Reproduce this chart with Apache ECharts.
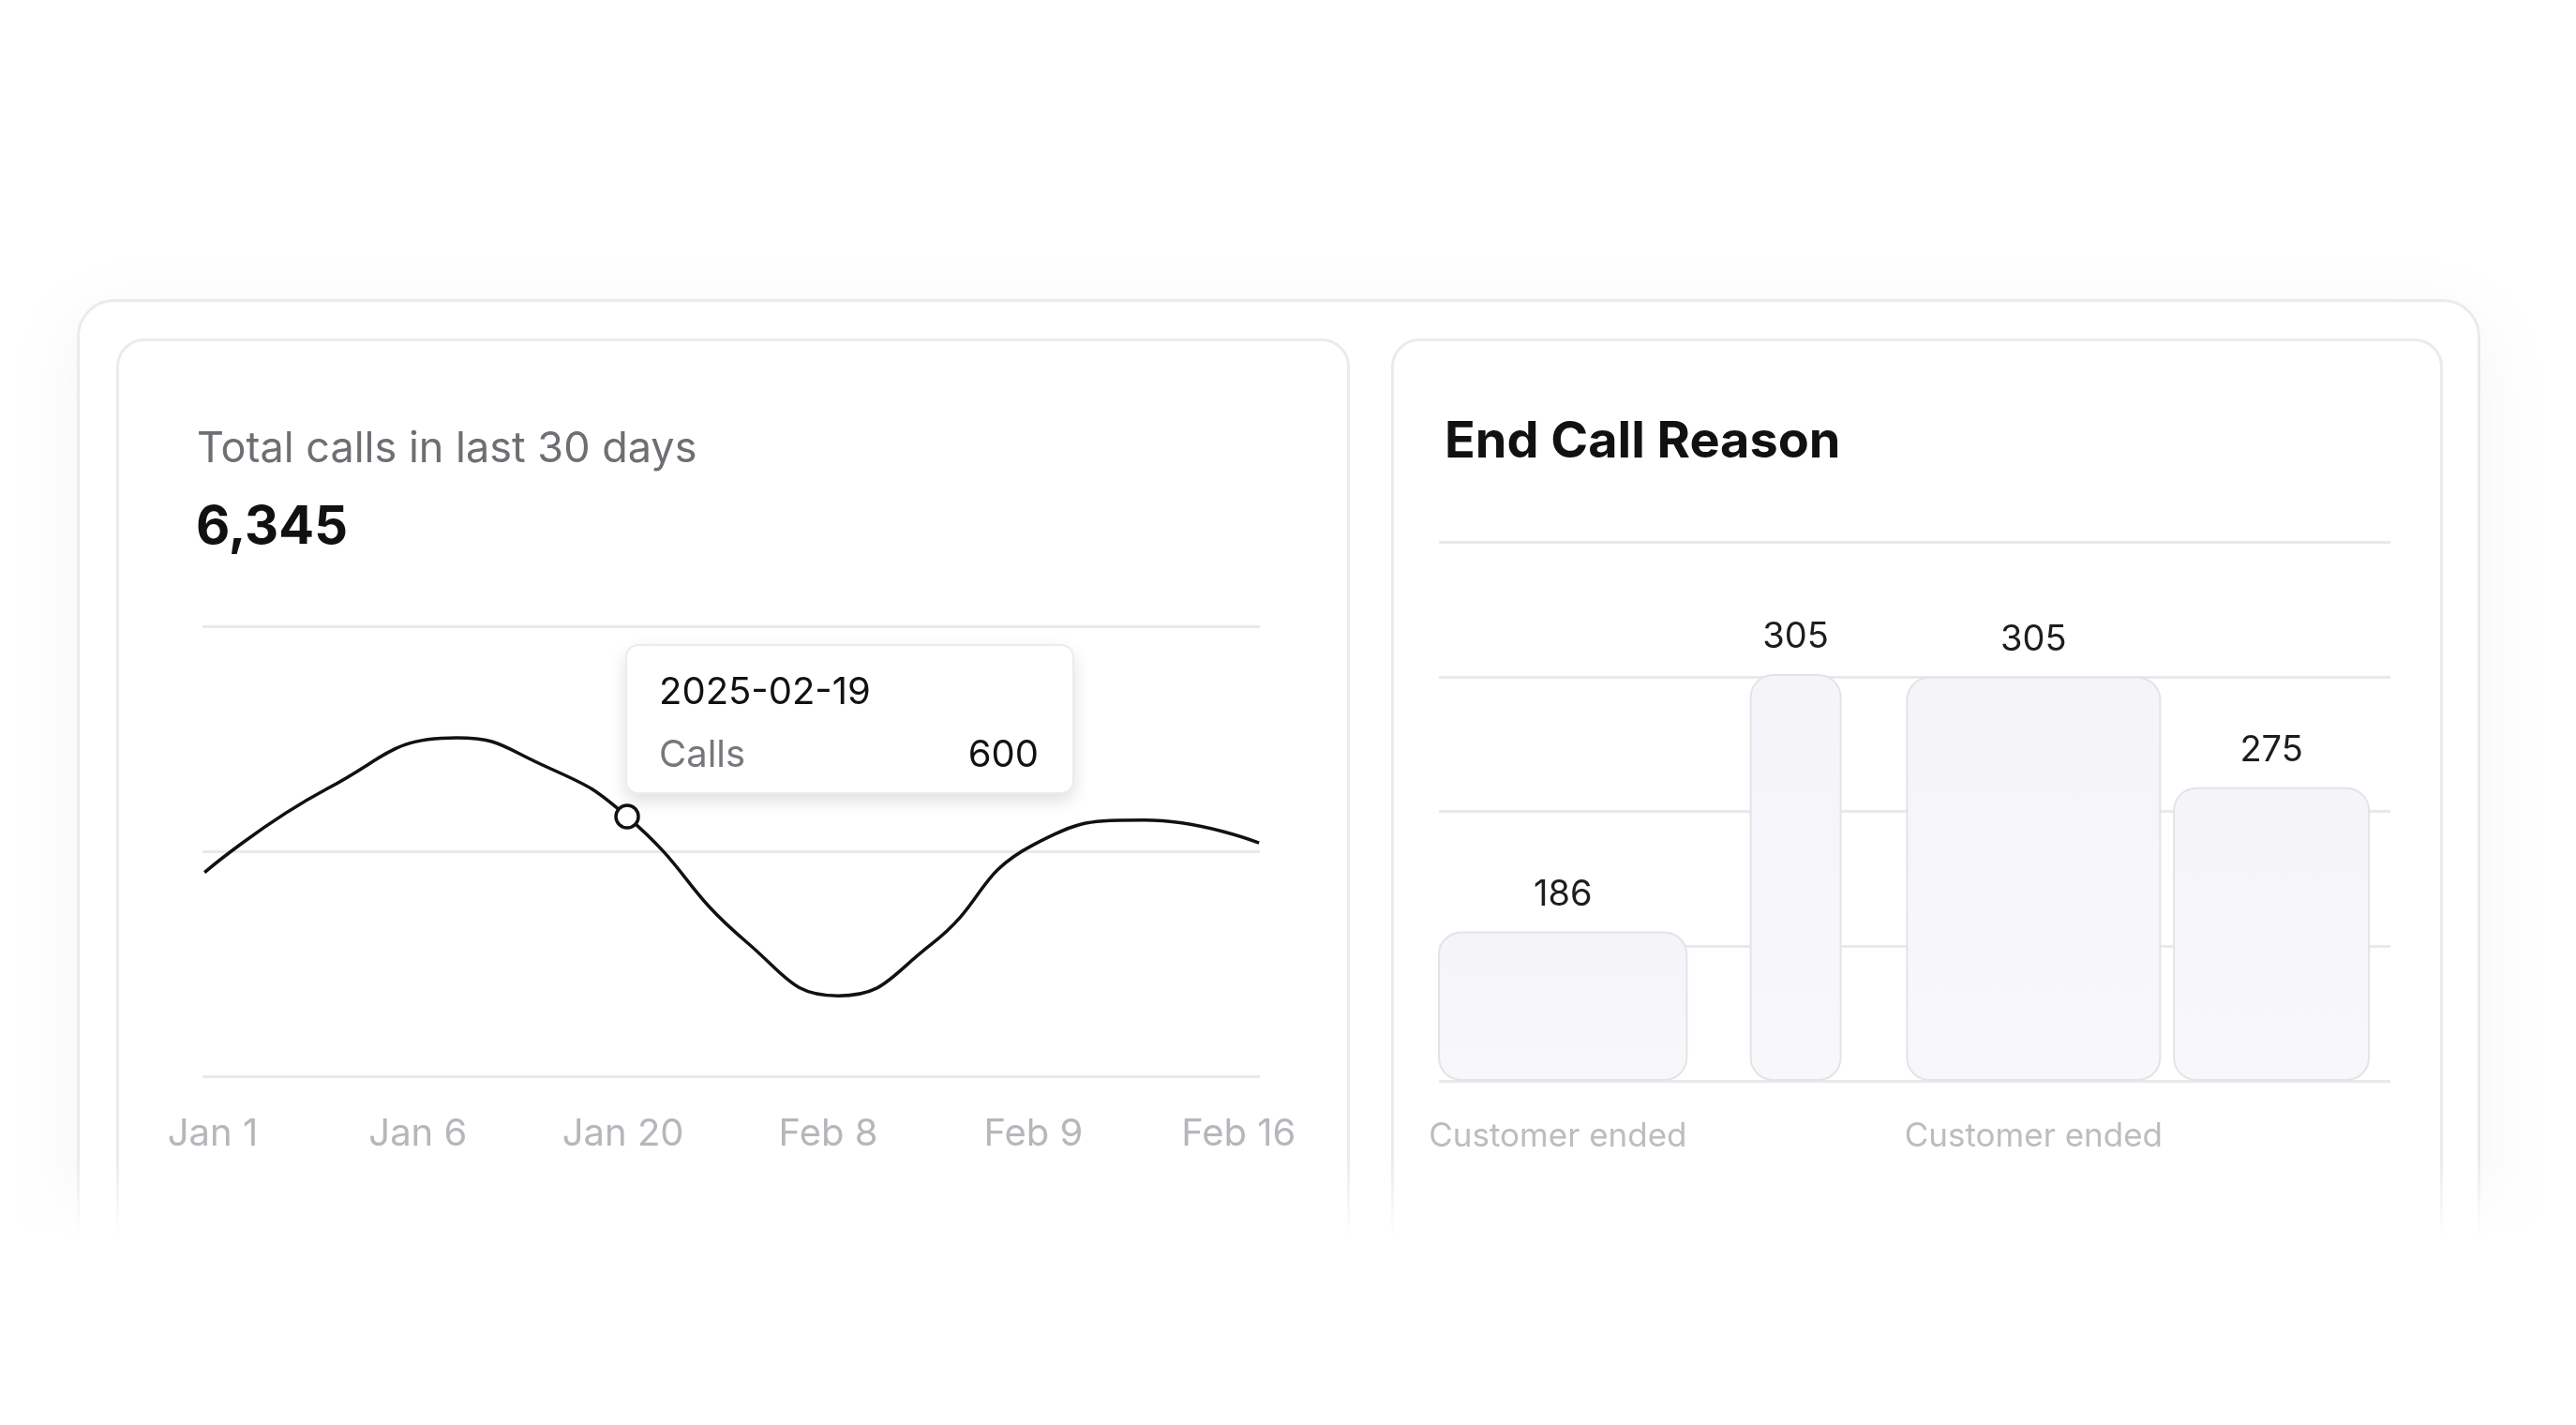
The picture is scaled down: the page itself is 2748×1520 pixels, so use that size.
<!DOCTYPE html>
<html>
<head>
<meta charset="utf-8">
<script src="https://cdn.jsdelivr.net/npm/echarts@6/dist/echarts.min.js"></script>
<style>
  html, body { margin: 0; padding: 0; background: #fff; width: 2748px; height: 1520px; overflow: hidden; font-family: Inter, "Noto Sans", sans-serif; }
  .card { position: absolute; background: #fff; border: 3px solid #ebebee; box-sizing: border-box; }
  #outer { left: 82px; top: 319px; width: 2564px; height: 1100px; border-radius: 40px; box-shadow: 0 20px 80px rgba(120, 110, 150, 0.08); }
  #leftCard { left: 124px; top: 361px; width: 1316px; height: 1100px; border-radius: 30px; }
  #rightCard { left: 1484px; top: 361px; width: 1122px; height: 1100px; border-radius: 30px; }
  #fade { position: absolute; left: 0; top: 1235px; width: 2748px; height: 285px; background: linear-gradient(to bottom, rgba(255,255,255,0) 0px, #fff 85px, #fff 100%); }
  #chart { position: absolute; left: 0; top: 0; width: 2748px; height: 1520px; }
</style>
</head>
<body>
<div class="card" id="outer"></div>
<div class="card" id="leftCard"></div>
<div class="card" id="rightCard"></div>
<div id="fade"></div>
<div id="chart"></div>
<script>
// line chart: x in label units (0 = Jan 1 ... 5 = Feb 16)
const dayLabels = ['Jan 1', 'Jan 6', 'Jan 20', 'Feb 8', 'Feb 9', 'Feb 16'];
const callX = [-0.04, 0.56, 1.19, 1.6, 2.02, 2.6, 3.05, 3.5, 4.0, 4.54, 5.10];
const callY = [471, 665, 782, 721, 600, 311, 186, 304, 535, 592, 539];
const tipIndex = 4;
const tipDate = '2025-02-19';
const totalCalls = '6,345';

// bar chart
const reasons = ['Customer ended', 'Other', 'Customer ended', 'Call Transfer'];
const reasonCounts = [186, 305, 305, 275];
const reasonHeights = [111, 302, 300, 218];

const chart = echarts.init(document.getElementById('chart'));
const font = 'Inter, "Noto Sans", sans-serif';

const lineData = callX.map(function (x, i) {
  const item = { value: [x, callY[i]] };
  if (i === tipIndex) {
    item.symbol = 'circle';
    item.symbolSize = 24;
  }
  return item;
});

const barWidths = [277, 98, 272, 210];
const barSeries = reasons.map(function (r, k) {
  return {
    type: 'bar',
    xAxisIndex: 1 + k,
    yAxisIndex: 1,
    barWidth: barWidths[k],
    data: reasonHeights.map(function (h, i) {
      return i === k ? h : null;
    }),
    itemStyle: {
      color: new echarts.graphic.LinearGradient(0, 0, 0, 1, [
        { offset: 0, color: '#f5f4f8' },
        { offset: 1, color: '#f8f7fa' }
      ]),
      borderColor: '#e4e3e8',
      borderWidth: 2,
      borderRadius: 24
    },
    label: {
      show: true,
      position: 'top',
      distance: 20,
      fontSize: 38,
      fontFamily: font,
      color: '#1d1d1f',
      formatter: function () { return String(reasonCounts[k]); }
    },
    z: 3
  };
});

const catAxis = function (idx, show) {
  return {
    type: 'category',
    gridIndex: 1,
    data: reasons,
    boundaryGap: true,
    axisLine: { show: false },
    axisTick: { show: false },
    axisLabel: show ? { fontSize: 35, fontFamily: font, color: '#bcbcc1', margin: 42 } : { show: false }
  };
};

chart.setOption({
  animation: false,
  title: [
    { text: 'Total calls in last 30 days', left: 205, top: 452, textStyle: { fontSize: 45, fontWeight: 'normal', color: '#6e6e73', fontFamily: font } },
    { text: totalCalls, left: 204, top: 530, textStyle: { fontSize: 56, fontWeight: 'bold', color: '#111', fontFamily: font } },
    { text: 'End Call Reason', left: 1536, top: 440, textStyle: { fontSize: 54, fontWeight: 'bold', color: '#111', fontFamily: font } }
  ],
  grid: [
    { left: 216, right: 1404, top: 668, bottom: 372 },
    { left: 1535, right: 198, top: 578, bottom: 367 }
  ],
  xAxis: [
    {
      type: 'value', gridIndex: 0, min: -0.05, max: 5.104,
      splitLine: { show: false }, axisLine: { show: false }, axisTick: { show: false },
      axisLabel: {
        customValues: [0, 1, 2, 3, 4, 5],
        fontSize: 40, fontFamily: font, color: '#b6b6bb', margin: 42,
        formatter: function (v) { return dayLabels[Math.round(v)] || ''; }
      }
    },
    catAxis(1, true), catAxis(2, false), catAxis(3, false), catAxis(4, false)
  ],
  yAxis: [
    {
      type: 'value', gridIndex: 0, min: 0, max: 1040, interval: 520,
      axisLabel: { show: false }, axisLine: { show: false }, axisTick: { show: false },
      splitLine: { lineStyle: { color: '#e9e9ec', width: 3 } }
    },
    {
      type: 'value', gridIndex: 1, min: 0, max: 400, interval: 100,
      axisLabel: { show: false }, axisLine: { show: false }, axisTick: { show: false },
      splitLine: { lineStyle: { color: '#e9e9ec', width: 3 } }
    }
  ],
  tooltip: {
    trigger: 'item',
    triggerOn: 'none',
    alwaysShowContent: true,
    padding: 0,
    borderWidth: 2,
    borderColor: '#ececef',
    backgroundColor: '#fff',
    extraCssText: 'border-radius:14px;box-shadow:0 8px 18px rgba(0,0,0,0.12);',
    position: function (pt) { return [pt[0] - 2, pt[1] - 184]; },
    formatter: function (p) {
      return '<div style="width:475px;height:156px;box-sizing:border-box;padding:18px 36px 0 34px;font-family:Inter,sans-serif;">' +
        '<div style="font-size:40px;color:#111;line-height:60px;">' + tipDate + '</div>' +
        '<div style="font-size:40px;line-height:74px;display:flex;justify-content:space-between;">' +
        '<span style="color:#77777c;">Calls</span><span style="color:#111;">' + p.value[1] + '</span></div></div>';
    }
  },
  series: [
    {
      type: 'line',
      xAxisIndex: 0,
      yAxisIndex: 0,
      smooth: 0.5,
      symbol: 'none',
      showSymbol: true,
      data: lineData,
      lineStyle: { color: '#111', width: 3.5 },
      itemStyle: { color: '#fff', borderColor: '#111', borderWidth: 3.5 },
      emphasis: { disabled: true },
      z: 3
    }
  ].concat(barSeries)
});

chart.dispatchAction({ type: 'showTip', seriesIndex: 0, dataIndex: tipIndex });
</script>
</body>
</html>
